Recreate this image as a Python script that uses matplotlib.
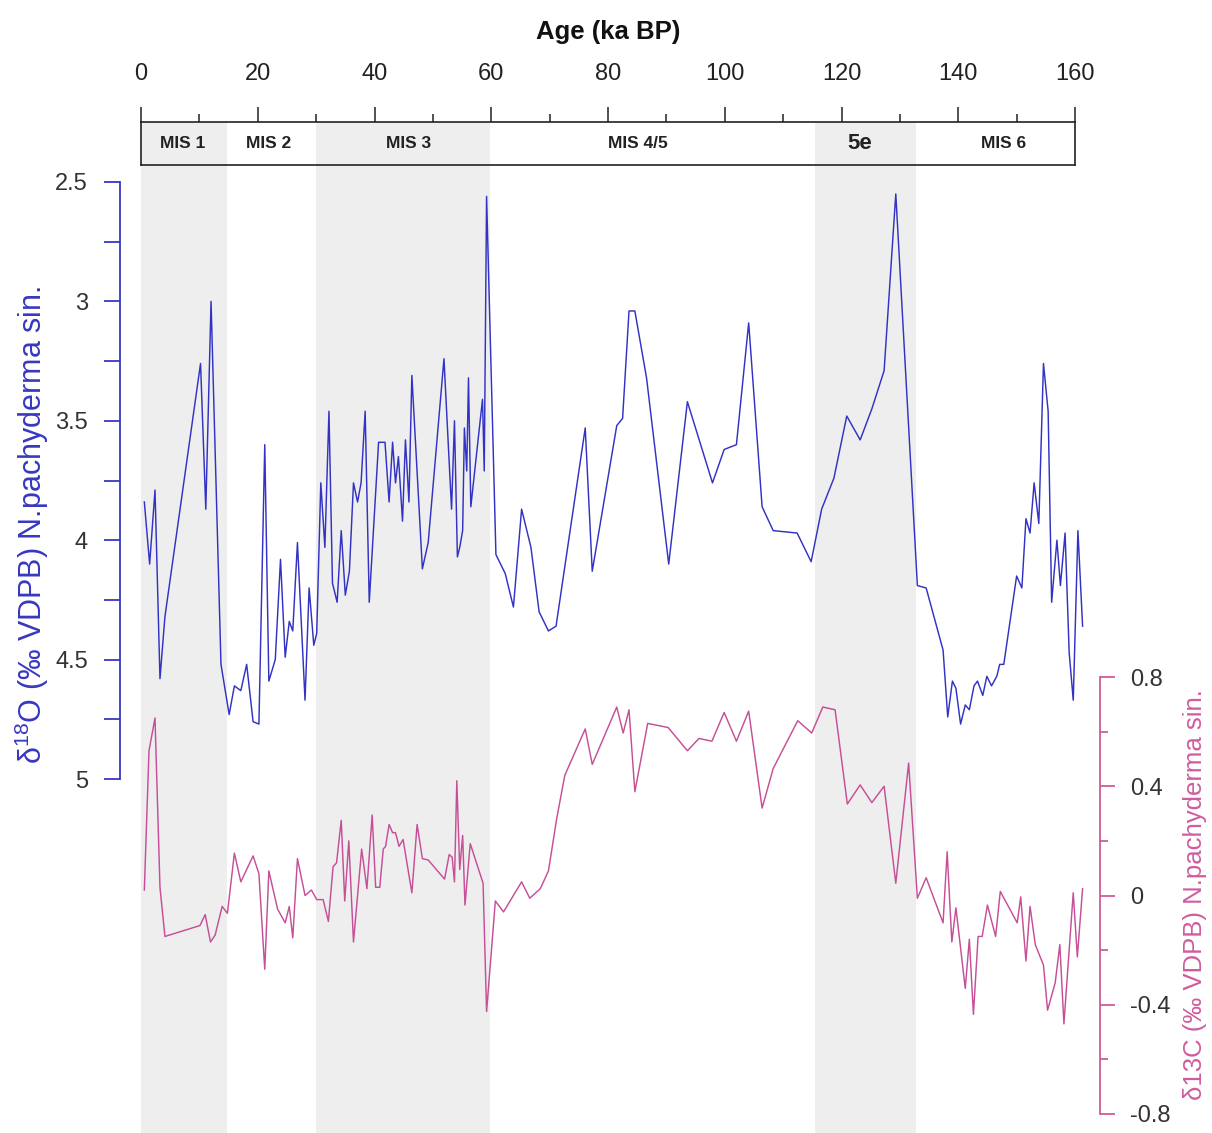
import matplotlib
matplotlib.use("Agg")
import matplotlib.pyplot as plt
from matplotlib.ticker import MultipleLocator, FuncFormatter

plt.rcParams['font.family'] = ['Liberation Sans', 'DejaVu Sans']
plt.rcParams['axes.unicode_minus'] = False
plt.rcParams['mathtext.fontset'] = 'custom'
plt.rcParams['mathtext.rm'] = 'Liberation Sans'
plt.rcParams['mathtext.it'] = 'Liberation Sans:italic'
plt.rcParams['mathtext.bf'] = 'Liberation Sans:bold'

# ---- N. pachyderma (sin.) oxygen isotope record ----
age_d18o = [0.57, 1.48, 2.4, 3.25, 4.1, 10.2, 11.1, 12.0, 13.7, 15.1, 16.0, 17.1,
            18.1, 19.2, 20.2, 21.2, 21.9, 23.0, 23.9, 24.7, 25.4, 26.0, 26.8, 28.1,
            28.8, 29.6, 30.1, 30.8, 31.5, 32.2, 32.8, 33.6, 34.3, 35.0, 35.7, 36.4,
            37.1, 37.7, 38.4, 39.1, 40.7, 41.8, 42.5, 43.1, 43.6, 44.1, 44.8, 45.3,
            45.9, 46.4, 48.2, 49.2, 51.9, 53.2, 53.7, 54.2, 54.6, 55.1, 55.4, 55.8,
            56.1, 56.5, 58.5, 58.8, 59.2, 60.8, 62.4, 63.8, 65.2, 66.8, 68.2, 69.8,
            71.1, 76.1, 77.3, 81.5, 82.5, 83.6, 84.6, 86.6, 90.4, 93.6, 97.9, 99.9,
            102.0, 104.1, 106.4, 108.3, 112.4, 114.8, 116.6, 118.7, 120.9, 123.2,
            125.2, 127.3, 129.3, 133.0, 134.5, 137.4, 138.2, 139.0, 139.6, 140.4,
            141.2, 141.9, 142.7, 143.3, 144.2, 144.9, 145.7, 146.6, 147.1, 147.8,
            150.0, 150.9, 151.6, 152.3, 153.0, 153.8, 154.6, 155.4, 156.0, 156.9,
            157.5, 158.3, 159.0, 159.7, 160.5, 161.3]
d18o = [3.84, 4.10, 3.79, 4.58, 4.32, 3.26, 3.87, 3.00, 4.52, 4.73, 4.61, 4.63,
        4.52, 4.76, 4.77, 3.60, 4.59, 4.50, 4.08, 4.49, 4.34, 4.38, 4.01, 4.67,
        4.20, 4.44, 4.39, 3.76, 4.03, 3.46, 4.18, 4.26, 3.96, 4.23, 4.13, 3.76,
        3.84, 3.76, 3.46, 4.26, 3.59, 3.59, 3.84, 3.59, 3.76, 3.65, 3.92, 3.58,
        3.84, 3.31, 4.12, 4.01, 3.24, 3.87, 3.50, 4.07, 4.03, 3.96, 3.53, 3.71,
        3.32, 3.86, 3.41, 3.71, 2.56, 4.06, 4.14, 4.28, 3.87, 4.03, 4.30, 4.38,
        4.36, 3.53, 4.13, 3.52, 3.49, 3.04, 3.04, 3.32, 4.10, 3.42, 3.76, 3.62,
        3.60, 3.09, 3.86, 3.96, 3.97, 4.09, 3.87, 3.74, 3.48, 3.58,
        3.45, 3.29, 2.55, 4.19, 4.20, 4.46, 4.74, 4.59, 4.62, 4.77,
        4.69, 4.71, 4.61, 4.59, 4.65, 4.57, 4.61, 4.57, 4.52, 4.52,
        4.15, 4.20, 3.91, 3.97, 3.76, 3.93, 3.26, 3.46, 4.26, 4.00,
        4.19, 3.97, 4.47, 4.67, 3.96, 4.36]

# ---- N. pachyderma (sin.) carbon isotope record ----
age_d13c = [0.57, 1.37, 2.4, 3.25, 4.1, 10.1, 11.0, 11.9, 12.7, 13.9, 14.8, 16.0,
            17.1, 19.2, 20.2, 21.2, 21.9, 23.4, 24.7, 25.4, 26.0, 26.8, 28.1, 29.2,
            30.1, 31.2, 32.1, 32.9, 33.5, 34.3, 34.9, 35.6, 36.4, 37.8, 38.7, 39.6,
            40.2, 40.9, 41.5, 41.9, 42.5, 43.1, 43.6, 44.2, 44.9, 46.4, 47.3, 48.2,
            49.2, 52.0, 52.8, 53.3, 53.7, 54.1, 54.6, 55.1, 55.5, 56.4, 58.6, 59.2,
            60.7, 62.1, 65.2, 66.6, 68.4, 69.8, 71.2, 72.6, 76.1, 77.3, 81.5, 82.6,
            83.6, 84.6, 86.8, 90.3, 93.6, 95.6, 97.8, 99.9, 102.0, 104.1, 106.4,
            108.3, 112.5, 114.9, 116.8, 118.9, 121.0, 123.2, 125.2, 127.3, 129.3,
            131.5, 133.0, 134.5, 137.4, 138.1, 138.9, 139.6, 141.2, 141.9, 142.6,
            143.4, 144.1, 145.0, 146.4, 147.2, 150.1, 150.7, 151.6, 152.3, 153.2,
            154.6, 155.3, 156.6, 157.4, 158.1, 159.7, 160.4, 161.3]
d13c = [0.02, 0.53, 0.65, 0.03, -0.15, -0.11, -0.07, -0.17, -0.145, -0.04, -0.065, 0.155,
        0.05, 0.145, 0.08, -0.27, 0.09, -0.05, -0.10, -0.04, -0.155, 0.135, 0.0, 0.02,
        -0.015, -0.015, -0.095, 0.105, 0.12, 0.275, -0.02, 0.20, -0.17, 0.17, 0.025, 0.295,
        0.03, 0.03, 0.17, 0.18, 0.26, 0.23, 0.23, 0.18, 0.205, 0.01, 0.26, 0.135,
        0.13, 0.06, 0.15, 0.14, 0.05, 0.42, 0.095, 0.22, -0.035, 0.19, 0.045, -0.425,
        -0.02, -0.06, 0.05, -0.01, 0.025, 0.09, 0.28, 0.44, 0.61, 0.48, 0.69, 0.595,
        0.68, 0.38, 0.63, 0.615, 0.53, 0.575, 0.565, 0.67, 0.565, 0.675, 0.32,
        0.465, 0.64, 0.595, 0.69, 0.68, 0.335, 0.405, 0.34, 0.40, 0.045,
        0.485, -0.01, 0.065, -0.10, 0.16, -0.17, -0.045, -0.34, -0.16, -0.435,
        -0.15, -0.15, -0.035, -0.15, 0.015, -0.10, -0.005, -0.24, -0.04, -0.18,
        -0.255, -0.42, -0.32, -0.18, -0.47, 0.01, -0.225, 0.025]

# ---- Marine isotope stages ----
stage_names = ["MIS 1", "MIS 2", "MIS 3", "MIS 4/5", "5e", "MIS 6"]
stage_centres = [7.2, 21.9, 45.9, 85.1, 123.2, 147.8]
shaded_periods = [(0.0, 14.7), (29.9, 59.8), (115.5, 132.8)]

AGE_MIN, AGE_MAX = 0, 160
BLUE = '#3232c4'
BLUE_AX = '#3838c0'
PINK = '#c64f98'
PINK_AX = '#cf5c9e'
SHADE = '#eeeeee'

W, H = 1212, 1133
fig = plt.figure(figsize=(W / 100, H / 100), dpi=100)


def place(x0, y0, x1, y1):
    """Axes rectangle from pixel corners (origin top-left)."""
    return [x0 / W, 1 - y1 / H, (x1 - x0) / W, (y1 - y0) / H]


PT = 72 / 100  # pixels -> points

# background bands spanning the whole record
ax_bg = fig.add_axes(place(141, 165, 1075, 1133))
for a0, a1 in shaded_periods:
    ax_bg.axvspan(a0, a1, color=SHADE, lw=0)
ax_bg.set_xlim(AGE_MIN, AGE_MAX)
ax_bg.axis('off')

# stage box with the age scale on top
ax_top = fig.add_axes(place(141, 122, 1075, 165))
for a0, a1 in shaded_periods:
    ax_top.axvspan(a0, a1, color=SHADE, lw=0)
ax_top.set_xlim(AGE_MIN, AGE_MAX)
ax_top.set_ylim(0, 1)
ax_top.set_yticks([])
for s in ax_top.spines.values():
    s.set_linewidth(1.2)
    s.set_color('#222222')
ax_top.xaxis.set_ticks_position('top')
ax_top.xaxis.set_label_position('top')
ax_top.xaxis.set_major_locator(MultipleLocator(20))
ax_top.xaxis.set_minor_locator(MultipleLocator(10))
ax_top.tick_params(axis='x', which='major', direction='out', length=15 * PT,
                   width=1.1, pad=22 * PT, labelsize=17, colors='#222222')
ax_top.tick_params(axis='x', which='minor', direction='out', length=8 * PT,
                   width=1.1, colors='#222222')
ax_top.set_xlabel('Age (ka BP)', fontsize=18.5, fontweight='bold', labelpad=17,
                  color='#111111')
for name, centre in zip(stage_names, stage_centres):
    big = name == '5e'
    ax_top.text(centre, 0.5, name, ha='center', va='center',
                fontsize=16 if big else 12.5, fontweight='bold', color='#222222')

fmt = FuncFormatter(lambda v, p: '%g' % round(v, 3))

# oxygen isotopes (reversed scale)
ax_o = fig.add_axes(place(141, 182, 1075, 779))
ax_o.patch.set_visible(False)
ax_o.plot(age_d18o, d18o, color=BLUE, lw=1.05, clip_on=False)
ax_o.set_xlim(AGE_MIN, AGE_MAX)
ax_o.set_ylim(5, 2.5)
for k in ('top', 'right', 'bottom'):
    ax_o.spines[k].set_visible(False)
ax_o.spines['left'].set_position(('outward', 21 * PT))
ax_o.spines['left'].set_color(BLUE_AX)
ax_o.spines['left'].set_linewidth(1.3)
ax_o.set_xticks([])
ax_o.yaxis.set_major_locator(MultipleLocator(0.5))
ax_o.yaxis.set_minor_locator(MultipleLocator(0.25))
ax_o.yaxis.set_major_formatter(fmt)
ax_o.tick_params(axis='y', which='both', direction='out', length=16 * PT,
                 width=1.3, color=BLUE_AX, labelcolor='#333333', labelsize=17,
                 pad=16 * PT)

# carbon isotopes
ax_c = fig.add_axes(place(141, 677, 1075, 1114))
ax_c.patch.set_visible(False)
ax_c.plot(age_d13c, d13c, color=PINK, lw=1.05, clip_on=False)
ax_c.set_xlim(AGE_MIN, AGE_MAX)
ax_c.set_ylim(-0.8, 0.8)
for k in ('top', 'left', 'bottom'):
    ax_c.spines[k].set_visible(False)
ax_c.spines['right'].set_position(('outward', 25 * PT))
ax_c.spines['right'].set_color(PINK_AX)
ax_c.spines['right'].set_linewidth(1.3)
ax_c.set_xticks([])
ax_c.yaxis.tick_right()
ax_c.yaxis.set_major_locator(MultipleLocator(0.4))
ax_c.yaxis.set_minor_locator(MultipleLocator(0.2))
ax_c.yaxis.set_major_formatter(fmt)
ax_c.tick_params(axis='y', which='major', direction='out', length=15 * PT,
                 width=1.3, color=PINK_AX, labelcolor='#333333', labelsize=17,
                 pad=15 * PT)
ax_c.tick_params(axis='y', which='minor', direction='out', length=8 * PT,
                 width=1.3, color=PINK_AX)

# axis titles
fig.text(32 / W, 1 - 525 / H, r'δ$^{\mathregular{18}}$O (‰ VDPB) N.pachyderma sin.',
         rotation=90, ha='center', va='center', fontsize=22, color=BLUE_AX)
fig.text(1195 / W, 1 - 895 / H, 'δ13C (‰ VDPB) N.pachyderma sin.',
         rotation=90, ha='center', va='center', fontsize=18.5, color=PINK_AX)

fig.savefig('out.png', dpi=100, facecolor='white')
